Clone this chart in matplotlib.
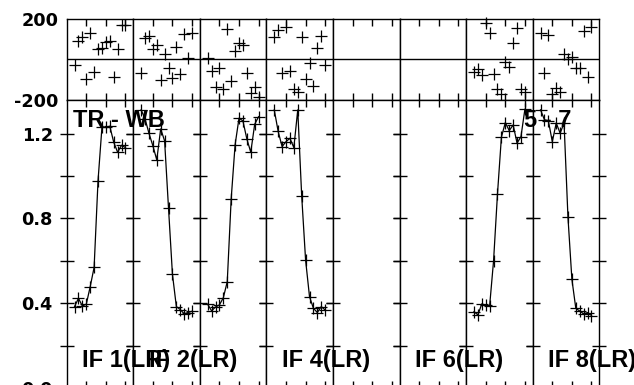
import matplotlib.pyplot as plt
import numpy as np

# ----------------------------------------------------------
# Data (channels 2..15 in each IF, empty IFs are None)
# ----------------------------------------------------------

CHANNELS = list(range(2, 16))

AMP_IF1 = [0.384, 0.423, 0.387, 0.395, 0.478, 0.569, 0.978, 1.230, 1.230, 1.235, 1.160, 1.112, 1.145, 1.134]
AMP_IF2 = [1.312, 1.270, 1.202, 1.143, 1.076, 1.222, 1.166, 0.848, 0.537, 0.384, 0.370, 0.350, 0.356, 0.362]
AMP_IF3 = [0.395, 0.364, 0.382, 0.392, 0.426, 0.502, 0.892, 1.147, 1.273, 1.260, 1.175, 1.112, 1.244, 1.280]
AMP_IF4 = [1.312, 1.210, 1.139, 1.162, 1.178, 1.134, 1.312, 0.908, 0.604, 0.431, 0.376, 0.356, 0.384, 0.368]
AMP_IF7 = [0.360, 0.345, 0.397, 0.390, 0.388, 0.600, 0.915, 1.183, 1.252, 1.214, 1.241, 1.155, 1.186, 1.315]
AMP_IF8 = [1.312, 1.265, 1.260, 1.162, 1.250, 1.202, 1.250, 0.805, 0.513, 0.376, 0.363, 0.350, 0.356, 0.342]

PHASE_IF1 = [-28, 92, 109, -99, 132, -61, 50, 58, 87, 92, -89, 50, 170, 170]
PHASE_IF2 = [-66, 104, 116, 50, 71, -103, 26, -45, -91, 60, -73, 126, 5, 132]
PHASE_IF3 = [5, -58, -139, -42, -149, 150, -106, 43, 82, 71, -69, -169, -136, -185]
PHASE_IF4 = [109, 145, -66, 162, -58, -149, -161, 112, -99, -17, -131, 55, 116, -28]
PHASE_IF7 = [-61, -50, -78, 179, 129, -73, -149, -172, -12, -37, 79, 154, -149, -161]
PHASE_IF8 = [129, -66, 120, -172, -144, -161, 26, 0, 10, -45, -45, 142, -86, 162]

AMPS = [AMP_IF1, AMP_IF2, AMP_IF3, AMP_IF4, None, None, AMP_IF7, AMP_IF8]
PHASES = [PHASE_IF1, PHASE_IF2, PHASE_IF3, PHASE_IF4, None, None, PHASE_IF7, PHASE_IF8]

LABELLED_IFS = [1, 2, 4, 6, 8]
AMP_TICKS = [0.0, 0.2, 0.4, 0.6, 0.8, 1.0, 1.2]
AMP_TICK_LABELS = ["0.0", "", "0.4", "", "0.8", "", "1.2"]

# ----------------------------------------------------------
# Layout
# ----------------------------------------------------------

W, H = 634, 385
LEFT, RIGHT = 66.7, 599.3
TOP, MID, BOTTOM = 19.0, 99.7, 388.0

TEXT_FONT = dict(family="Liberation Sans", fontweight="bold", fontsize=17)
TICK_FONT = dict(family="DejaVu Sans", weight="bold", size=12.7)

fig = plt.figure(figsize=(W / 100, H / 100), dpi=100)
gs = fig.add_gridspec(
    2, 8,
    left=LEFT / W, right=RIGHT / W,
    top=1 - TOP / H, bottom=1 - BOTTOM / H,
    wspace=0, hspace=0,
    height_ratios=[MID - TOP, BOTTOM - MID],
)

for i in range(8):
    axp = fig.add_subplot(gs[0, i])
    axa = fig.add_subplot(gs[1, i])

    for ax in (axp, axa):
        ax.set_xlim(0, 17)
        ax.set_xticks([5, 10, 15])
        ax.tick_params(axis="x", direction="in", top=True, bottom=True,
                       length=5, width=1, labelbottom=False)
        for s in ax.spines.values():
            s.set_linewidth(1.0)

    # phase
    axp.set_ylim(-200, 200)
    axp.axhline(0, color="black", lw=1.0)
    axp.set_yticks([-200, 200])
    axp.tick_params(axis="y", length=0, pad=6)
    if i == 0:
        axp.set_yticklabels(["-200", "200"], fontdict=TICK_FONT)
    else:
        axp.set_yticklabels([])

    # amplitude
    axa.set_ylim(0, 1.36)
    axa.set_yticks(AMP_TICKS)
    axa.tick_params(axis="y", direction="inout", left=True, right=True,
                    length=10, width=1, pad=5)
    if i == 0:
        axa.set_yticklabels(AMP_TICK_LABELS, fontdict=TICK_FONT)
    else:
        axa.set_yticklabels([])

    if AMPS[i] is not None:
        axa.plot(CHANNELS, AMPS[i], color="black", lw=0.9,
                 marker="+", markersize=8, markeredgewidth=0.9)
        axp.plot(CHANNELS, PHASES[i], ls="none", color="black",
                 marker="+", markersize=8, markeredgewidth=0.9, clip_on=False)

    if i + 1 in LABELLED_IFS:
        x0 = LEFT + i * (RIGHT - LEFT) / 8 + 15.5
        fig.text(x0 / W, 1 - 367 / H, f"IF {i + 1}(LR)", va="baseline", **TEXT_FONT)

fig.text(73 / W, 1 - 127 / H, "TR - WB", va="baseline", **TEXT_FONT)
fig.text(524 / W, 1 - 127 / H, "5 - 7", va="baseline", **TEXT_FONT)

fig.savefig("out.png", dpi=100)
